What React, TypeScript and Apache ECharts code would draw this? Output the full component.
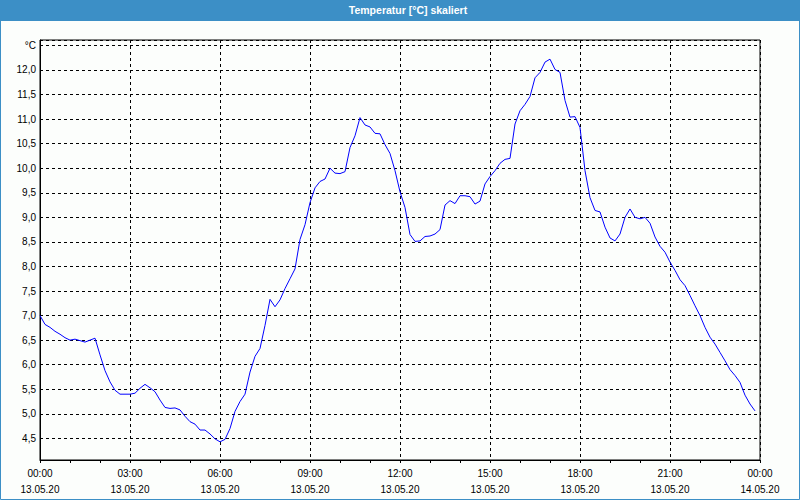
import React, { useEffect, useRef } from "react";
import * as echarts from "echarts";

// Temperature readings every 10 minutes on 13.05.20 (°C)
const STEP_MIN = 10;
const temps: number[] = [
  7.0, 6.82, 6.76, 6.68, 6.62, 6.55,
  6.5, 6.52, 6.49, 6.46, 6.5, 6.54,
  6.2, 5.88, 5.65, 5.48, 5.4, 5.4,
  5.4, 5.42, 5.52, 5.6, 5.53, 5.45,
  5.28, 5.13, 5.11, 5.12, 5.08, 4.95,
  4.84, 4.79, 4.67, 4.67, 4.59, 4.49,
  4.43, 4.48, 4.7, 5.05, 5.25, 5.4,
  5.85, 6.17, 6.33, 6.8, 7.33, 7.18,
  7.32, 7.55, 7.75, 7.95, 8.55, 8.85,
  9.3, 9.6, 9.73, 9.78, 10.0, 9.9,
  9.89, 9.93, 10.42, 10.66, 11.03, 10.88,
  10.84, 10.71, 10.7, 10.48, 10.3, 9.95,
  9.52, 9.2, 8.65, 8.51, 8.52, 8.61,
  8.62, 8.66, 8.75, 9.25, 9.34, 9.28,
  9.44, 9.44, 9.42, 9.27, 9.33, 9.68,
  9.83, 9.95, 10.1, 10.18, 10.2, 10.9,
  11.17, 11.3, 11.46, 11.84, 11.95, 12.16,
  12.22, 12.01, 11.95, 11.38, 11.04, 11.05,
  10.83, 9.95, 9.4, 9.14, 9.11, 8.8,
  8.58, 8.52, 8.66, 9.0, 9.17, 9.0,
  8.97, 9.0, 8.88, 8.6, 8.41, 8.29,
  8.09, 7.92, 7.73, 7.61, 7.41, 7.2,
  7.0, 6.76, 6.56, 6.42, 6.25, 6.08,
  5.9, 5.78, 5.64, 5.38, 5.2, 5.06,
];

const TITLE = "Temperatur [°C] skaliert";
const UNIT = "°C";
const DATE_LABELS = ["13.05.20", "14.05.20"];
const X_MIN = 0;
const X_MAX = 1440;
const Y_MIN = 4.06;
const Y_MAX = 12.61;

const FONT = "'Liberation Sans', Tahoma, sans-serif";

export default function App() {
  const ref = useRef<HTMLDivElement>(null);

  useEffect(() => {
    document.body.style.margin = "0";
    const chart = echarts.init(ref.current!, null, { renderer: "svg" });
    const data = temps.map((v, i) => [i * STEP_MIN, v]);
    const pad = (n: number) => (n < 10 ? "0" + n : "" + n);

    chart.setOption({
      animation: false,
      backgroundColor: "#fcfefc",
      textStyle: { fontFamily: FONT },
      grid: {
        left: 40,
        right: 40,
        top: 40,
        bottom: 40,
        show: true,
        borderColor: "#000",
        borderWidth: 1,
        backgroundColor: "transparent",
        containLabel: false,
        outerBoundsMode: "none",
      },
      graphic: [
        {
          type: "rect",
          shape: { x: 0, y: 0, width: 800, height: 21 },
          style: { fill: "#3c8fc6" },
          silent: true,
        },
        {
          type: "rect",
          shape: { x: 0.5, y: 0.5, width: 799, height: 499 },
          style: { fill: "none", stroke: "#3c8fc6", lineWidth: 1 },
          silent: true,
        },
        {
          type: "text",
          x: 408,
          y: 10,
          style: {
            text: TITLE,
            fill: "#ffffff",
            font: "bold 10.5px " + FONT,
            textAlign: "center",
            textVerticalAlign: "middle",
          },
          silent: true,
        },
      ],
      xAxis: {
        type: "value",
        min: X_MIN,
        max: X_MAX,
        interval: 180,
        axisLine: { show: true, lineStyle: { color: "#000", width: 1 } },
        axisTick: { show: true, length: 3, lineStyle: { color: "#000" } },
        minorTick: { show: true, splitNumber: 3, length: 3, lineStyle: { color: "#000" } },
        splitLine: {
          show: true,
          lineStyle: { color: "#000", width: 1, type: [3, 3] },
        },
        axisLabel: {
          color: "#000",
          fontSize: 10,
          fontFamily: FONT,
          lineHeight: 16,
          margin: 5,
          formatter: (v: number) => {
            const day = Math.floor(v / 1440);
            const m = v - day * 1440;
            return pad(Math.floor(m / 60)) + ":" + pad(m % 60) + "\n" + DATE_LABELS[day];
          },
        },
      },
      yAxis: {
        type: "value",
        min: Y_MIN,
        max: Y_MAX,
        minInterval: 0.5,
        maxInterval: 0.5,
        splitNumber: 17,
        axisLine: { show: true, lineStyle: { color: "#000", width: 1 } },
        axisTick: { show: false },
        splitLine: {
          show: true,
          lineStyle: { color: "#000", width: 1, type: [3, 3] },
        },
        axisLabel: {
          color: "#000",
          fontSize: 10,
          fontFamily: FONT,
          margin: 4,
          showMinLabel: false,
          showMaxLabel: false,
          formatter: (v: number) => {
            const r = Math.round(v * 2) / 2;
            if (Math.abs(v - r) > 1e-6) return "";
            if (Math.abs(r - 12.5) < 1e-6) return UNIT;
            return r.toFixed(1).replace(".", ",");
          },
        },
      },
      series: [
        {
          type: "line",
          data,
          symbol: "none",
          lineStyle: { color: "#0000ff", width: 1 },
          itemStyle: { color: "#0000ff" },
        },
      ],
    });

    return () => chart.dispose();
  }, []);

  return (
    <div
      ref={ref}
      style={{ position: "absolute", left: 0, top: 0, width: 800, height: 500 }}
    />
  );
}
